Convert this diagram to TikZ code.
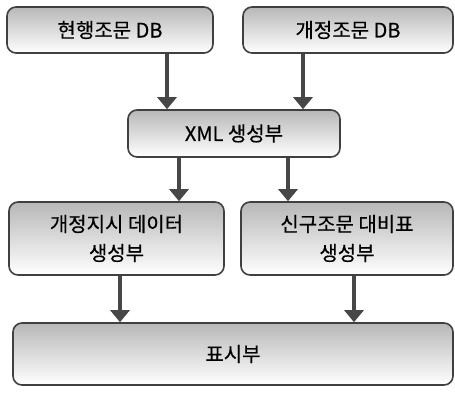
\documentclass[tikz,border=0pt]{standalone}
\usepackage{fontspec}
\setmainfont{Noto Sans CJK KR}
\usepackage{tikz}
\usetikzlibrary{arrows.meta}

\begin{document}
\begin{tikzpicture}[x=1pt,y=-1pt,
	blk/.style={draw=black!75,line width=1.6pt,rounded corners=9pt,top color=black!28,bottom color=white,
		font=\fontsize{20}{29}\selectfont\addfontfeatures{FakeBold=0.5},align=center,inner sep=0pt},
	arr/.style={draw=black!72,line width=3.6pt,-{Triangle[length=12pt,width=19pt]}}]
	\useasboundingbox (0,0) rectangle (455,396);
	\node[blk,minimum width=206pt,minimum height=46pt] (cur) at (110,30) {현행조문 DB};
	\node[blk,minimum width=210pt,minimum height=46pt] (rev) at (348,30) {개정조문 DB};
	\node[blk,minimum width=212pt,minimum height=47pt] (xml) at (234,133.5) {XML 생성부};
	\node[blk,minimum width=215pt,minimum height=73pt] (ins) at (116.5,238.5) {개정지시 데이터\\생성부};
	\node[blk,minimum width=212pt,minimum height=73pt] (cmp) at (347,238.5) {신구조문 대비표\\생성부};
	\node[blk,minimum width=440pt,minimum height=62pt] (disp) at (233,354) {표시부};
	\draw[arr] ([xshift=57pt]cur.south) -- ([xshift=57pt]cur.south |- xml.north);
	\draw[arr] ([xshift=-45pt]rev.south) -- ([xshift=-45pt]rev.south |- xml.north);
	\draw[arr] ([xshift=-55pt]xml.south) -- ([xshift=-55pt]xml.south |- ins.north);
	\draw[arr] ([xshift=54pt]xml.south) -- ([xshift=54pt]xml.south |- cmp.north);
	\draw[arr] ([xshift=3.5pt]ins.south) -- ([xshift=3.5pt]ins.south |- disp.north);
	\draw[arr] ([xshift=7pt]cmp.south) -- ([xshift=7pt]cmp.south |- disp.north);
\end{tikzpicture}
\end{document}
